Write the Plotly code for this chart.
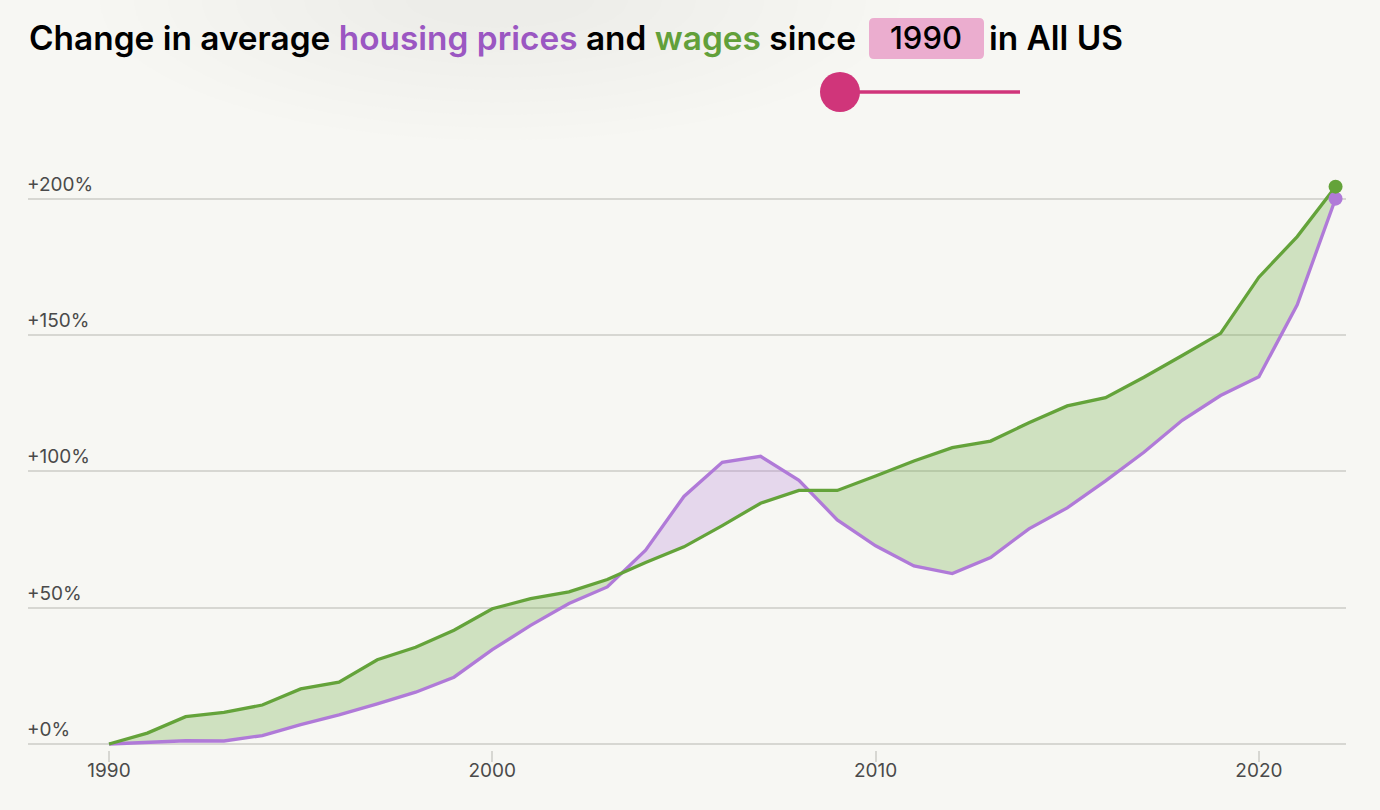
import plotly.graph_objects as go

# ---------------- data ----------------
years = list(range(1990, 2023))
housing = [0, 0.6, 1.2, 1.1, 3.1, 7.1, 10.7, 14.7, 19.0, 24.5,
           34.6, 43.5, 51.5, 57.6, 71.1, 90.8, 103.3, 105.5, 96.7, 82.2,
           72.7, 65.3, 62.5, 68.4, 78.9, 86.6, 96.5, 107.0, 118.7, 127.8,
           134.7, 161.1, 200.0]
wages = [0, 4.0, 10.0, 11.6, 14.3, 20.2, 22.7, 30.9, 35.5, 41.7,
         49.6, 53.3, 55.8, 60.3, 66.6, 72.3, 80.1, 88.3, 93.0, 93.0,
         98.3, 103.8, 108.7, 111.1, 117.8, 124.0, 127.0, 134.5, 142.5, 150.6,
         171.2, 186.1, 204.4]
x_ticks = [1990, 2000, 2010, 2020]
x_tick_labels = ["1990", "2000", "2010", "2020"]
y_ticks = [0, 50, 100, 150, 200]
y_tick_labels = ["+0%", "+50%", "+100%", "+150%", "+200%"]
start_year_label = "1990"
region_label = "All US"

# ---------------- styles ----------------
BG = "#f7f7f3"
GREEN = "#64a33a"
PURPLE = "#b07ad8"
GREEN_TXT = "#62a03a"
PURPLE_TXT = "#9b57c2"
GREEN_FILL = "rgba(100,165,55,0.27)"
PURPLE_FILL = "rgba(175,120,215,0.25)"
PINK = "#d0357a"
PINK_BOX = "#ebadcf"
GRID = "#d7d7d2"
TICK_TXT = "#4a4a4a"
TITLE_FONT = "Inter, Liberation Sans, Arial, sans-serif"
TICK_FONT = "Inter, Liberation Sans, Arial, sans-serif"

W, H = 1380, 810
L, R, T, B = 28, 34, 150, 60
PW, PH = W - L - R, H - T - B


def px(x):
    return (x - L) / PW


def py(y):
    return (H - B - y) / PH


# ---------------- fill regions (crossings interpolated) ----------------
xs, wa, ha = [years[0]], [wages[0]], [housing[0]]
for i in range(1, len(years)):
    d0 = wages[i - 1] - housing[i - 1]
    d1 = wages[i] - housing[i]
    if d0 * d1 < 0:
        t = d0 / (d0 - d1)
        xc = years[i - 1] + t * (years[i] - years[i - 1])
        yc = wages[i - 1] + t * (wages[i] - wages[i - 1])
        xs.append(xc)
        wa.append(yc)
        ha.append(yc)
    xs.append(years[i])
    wa.append(wages[i])
    ha.append(housing[i])
low = [min(a, b) for a, b in zip(wa, ha)]

fig = go.Figure()
fig.add_trace(go.Scatter(x=xs, y=low, mode="lines", line=dict(width=0),
                         hoverinfo="skip", showlegend=False))
fig.add_trace(go.Scatter(x=xs, y=wa, mode="lines", line=dict(width=0),
                         fill="tonexty", fillcolor=GREEN_FILL,
                         hoverinfo="skip", showlegend=False))
fig.add_trace(go.Scatter(x=xs, y=low, mode="lines", line=dict(width=0),
                         hoverinfo="skip", showlegend=False))
fig.add_trace(go.Scatter(x=xs, y=ha, mode="lines", line=dict(width=0),
                         fill="tonexty", fillcolor=PURPLE_FILL,
                         hoverinfo="skip", showlegend=False))

# lines
fig.add_trace(go.Scatter(x=years, y=housing, mode="lines",
                         line=dict(color=PURPLE, width=3.3),
                         name="housing prices", showlegend=False))
fig.add_trace(go.Scatter(x=years, y=wages, mode="lines",
                         line=dict(color=GREEN, width=3.3),
                         name="wages", showlegend=False))
# end markers
fig.add_trace(go.Scatter(x=[years[-1]], y=[housing[-1]], mode="markers",
                         marker=dict(color=PURPLE, size=14),
                         showlegend=False, hoverinfo="skip"))
fig.add_trace(go.Scatter(x=[years[-1]], y=[wages[-1]], mode="markers",
                         marker=dict(color=GREEN, size=14),
                         showlegend=False, hoverinfo="skip"))

# ---------------- axes ----------------
x0 = 1990 - (109 - L) / 38.33
x1 = x0 + PW / 38.33
y_per = 2.7267
y0 = (744 - (H - B)) / y_per
y1 = y0 + PH / y_per

fig.update_xaxes(range=[x0, x1], tickvals=x_ticks, ticktext=x_tick_labels,
                 showgrid=False, zeroline=False, showline=False,
                 ticks="outside", ticklen=11, tickwidth=1.5, tickcolor=GRID,
                 ticklabelstandoff=-8,
                 tickfont=dict(family=TICK_FONT, size=19, color=TICK_TXT),
                 fixedrange=True)
fig.update_yaxes(range=[y0, y1], tickvals=y_ticks, showticklabels=False,
                 showgrid=True, gridcolor=GRID, gridwidth=1.6,
                 zeroline=False, showline=False, fixedrange=True)

annotations = []
for v, lab in zip(y_ticks, y_tick_labels):
    annotations.append(dict(x=0, xref="paper", y=v, yref="y", text=lab,
                            showarrow=False, xanchor="left", yanchor="bottom",
                            yshift=1, xshift=-3,
                            font=dict(family=TICK_FONT, size=19, color=TICK_TXT)))

# title pieces
TITLE_SIZE = 33.4
title_left = ("Change in average "
              f"<span style='color:{PURPLE_TXT}'>housing prices</span> and "
              f"<span style='color:{GREEN_TXT}'>wages</span> since")
annotations.append(dict(x=px(858), y=py(38), xref="paper", yref="paper",
                        text=title_left, showarrow=False,
                        xanchor="right", yanchor="middle",
                        font=dict(family=TITLE_FONT, size=TITLE_SIZE, color="#000000",
                                  weight=600)))
annotations.append(dict(x=px(926), y=py(38), xref="paper", yref="paper",
                        text=start_year_label, showarrow=False,
                        xanchor="center", yanchor="middle",
                        font=dict(family=TITLE_FONT, size=31, color="#000000",
                                  weight=500)))
annotations.append(dict(x=px(987), y=py(38), xref="paper", yref="paper",
                        text=f"in {region_label}", showarrow=False,
                        xanchor="left", yanchor="middle",
                        font=dict(family=TITLE_FONT, size=TITLE_SIZE, color="#000000",
                                  weight=600)))

# ---------------- shapes ----------------
shapes = []
# soft glow at top (many faint layers)
n_layers = 10
for k in range(n_layers):
    f = 1 - k / n_layers
    rx, ry = 340 * f + 60, 125 * f + 15
    shapes.append(dict(type="circle", xref="paper", yref="paper",
                       x0=px(500 - rx), x1=px(500 + rx), y0=py(0 + ry), y1=py(0 - ry),
                       fillcolor="#cfcfc8", opacity=0.025, line=dict(width=0),
                       layer="below"))


def rounded_rect(xa, ya, xb, yb, r):
    X = lambda v: px(v)
    Y = lambda v: py(v)
    return (f"M {X(xa + r)} {Y(ya)} L {X(xb - r)} {Y(ya)} Q {X(xb)} {Y(ya)} {X(xb)} {Y(ya + r)} "
            f"L {X(xb)} {Y(yb - r)} Q {X(xb)} {Y(yb)} {X(xb - r)} {Y(yb)} "
            f"L {X(xa + r)} {Y(yb)} Q {X(xa)} {Y(yb)} {X(xa)} {Y(yb - r)} "
            f"L {X(xa)} {Y(ya + r)} Q {X(xa)} {Y(ya)} {X(xa + r)} {Y(ya)} Z")


shapes.append(dict(type="path", xref="paper", yref="paper",
                   path=rounded_rect(869, 18, 984, 59, 5),
                   fillcolor=PINK_BOX, line=dict(width=0), layer="below"))
# slider
shapes.append(dict(type="line", xref="paper", yref="paper",
                   x0=px(840), x1=px(1020), y0=py(92), y1=py(92),
                   line=dict(color=PINK, width=3.3)))
shapes.append(dict(type="circle", xref="paper", yref="paper",
                   x0=px(820), x1=px(860), y0=py(112), y1=py(72),
                   fillcolor=PINK, line=dict(width=0)))

fig.update_layout(width=W, height=H, margin=dict(l=L, r=R, t=T, b=B),
                  paper_bgcolor=BG, plot_bgcolor="rgba(0,0,0,0)",
                  annotations=annotations, shapes=shapes,
                  showlegend=False, hovermode=False)

fig.write_html("out.html", config={"displayModeBar": False})
